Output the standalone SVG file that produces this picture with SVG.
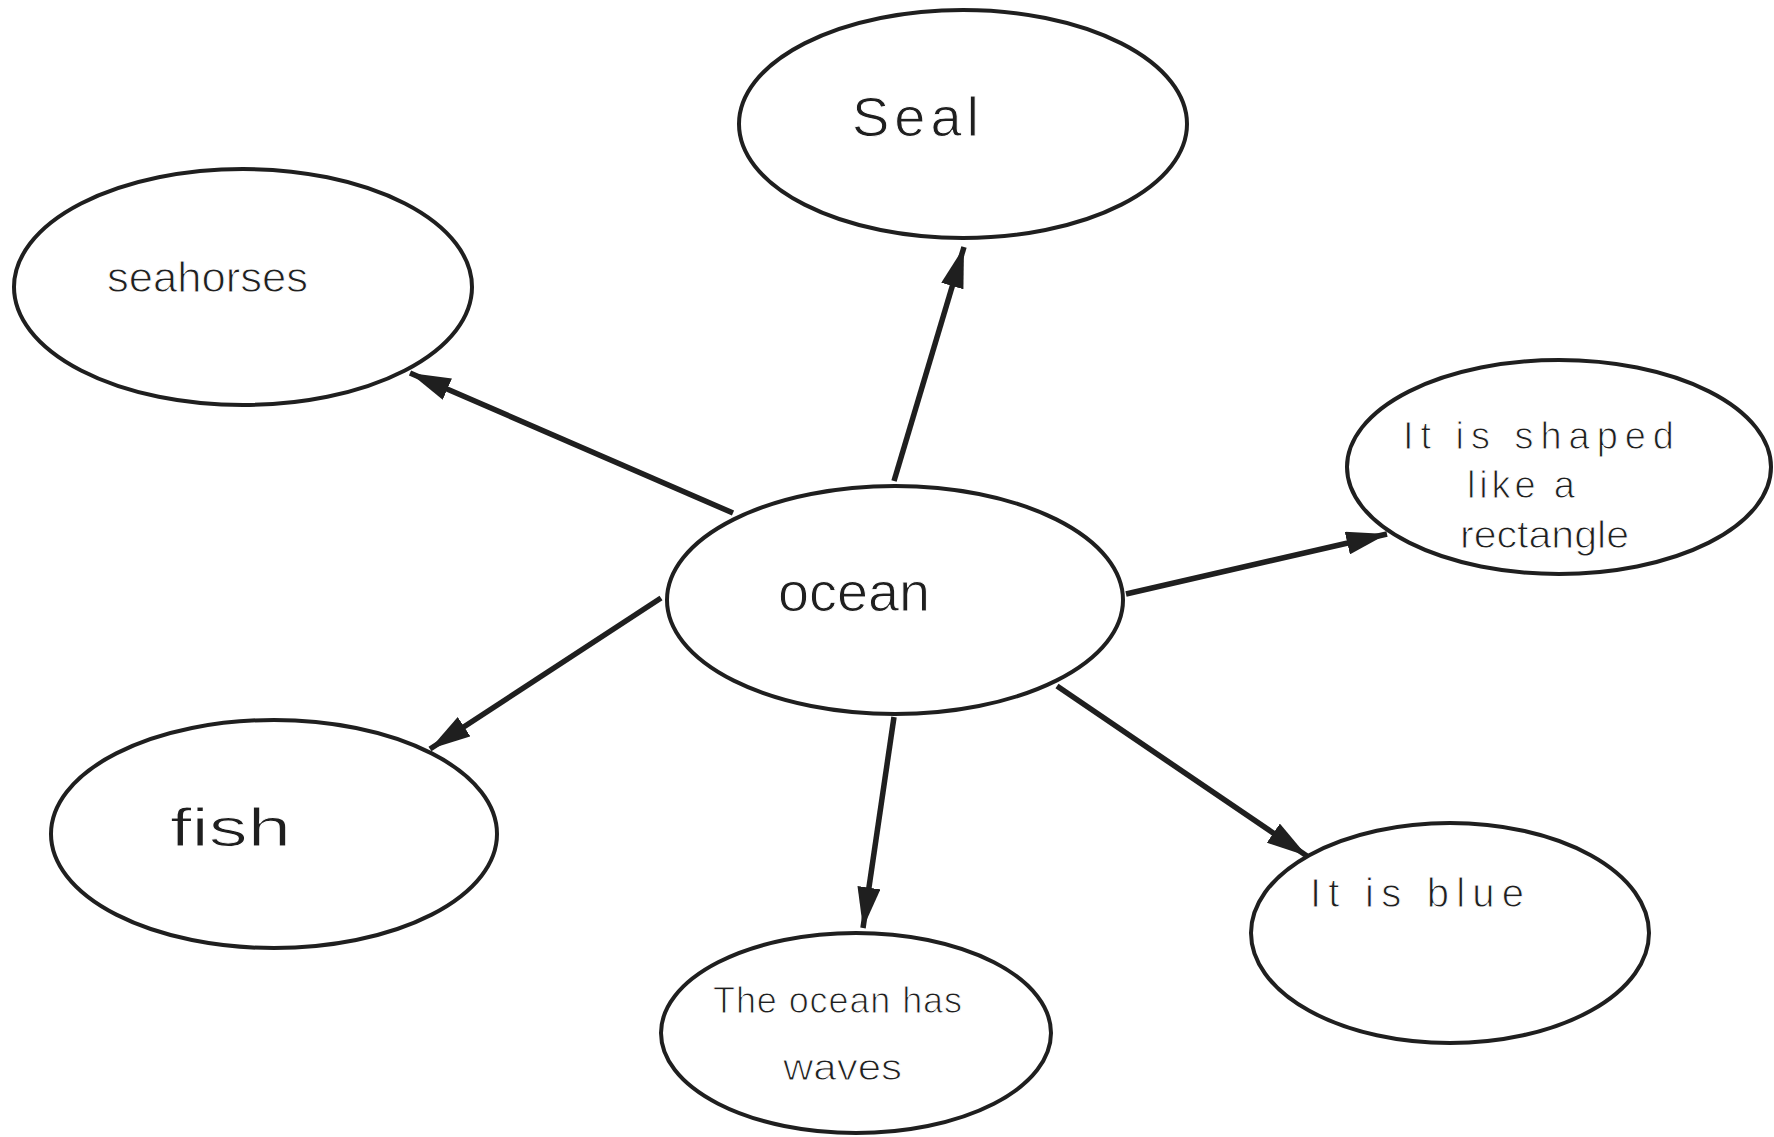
<svg xmlns="http://www.w3.org/2000/svg" width="1774" height="1137" viewBox="0 0 1774 1137">
<style>
.node ellipse{fill:#fff;stroke:#1f1f1f;stroke-width:4}
.lbl{font-family:"Liberation Sans","DejaVu Sans",sans-serif;font-weight:300;fill:#1f1f1f;stroke:#fff;stroke-width:1}
.conn line{stroke:#1f1f1f;stroke-width:5.5;stroke-linecap:butt}
</style>
<defs>
<marker id="ah" viewBox="0 0 10 10" refX="10" refY="5" markerWidth="7.4" markerHeight="4.2" markerUnits="strokeWidth" orient="auto" preserveAspectRatio="none">
<path d="M0,0 L10,5 L0,10 z" fill="#1f1f1f"/>
</marker>
</defs>
<rect width="1774" height="1137" fill="#fff"/>
<g id="connectors" class="conn">
<line x1="894" y1="481" x2="964" y2="247" marker-end="url(#ah)"/>
<line x1="733" y1="513" x2="410" y2="373" marker-end="url(#ah)"/>
<line x1="1126" y1="594" x2="1387" y2="534" marker-end="url(#ah)"/>
<line x1="661" y1="598" x2="430" y2="749" marker-end="url(#ah)"/>
<line x1="894" y1="717" x2="863" y2="928" marker-end="url(#ah)"/>
<line x1="1057" y1="686" x2="1307" y2="856" marker-end="url(#ah)"/>
</g>
<g id="ocean" class="node">
<ellipse cx="895" cy="600" rx="228" ry="114"/>
<text class="lbl" x="778" y="611" font-size="56" textLength="152" lengthAdjust="spacingAndGlyphs">ocean</text>
</g>
<g id="seal" class="node">
<ellipse cx="963" cy="124" rx="224" ry="114"/>
<text class="lbl" x="852" y="136" font-size="56" textLength="127" lengthAdjust="spacing">Seal</text>
</g>
<g id="seahorses" class="node">
<ellipse cx="243" cy="287" rx="229" ry="118"/>
<text class="lbl" x="107" y="292" font-size="42" textLength="201" lengthAdjust="spacingAndGlyphs">seahorses</text>
</g>
<g id="shaped" class="node">
<ellipse cx="1559" cy="467" rx="212" ry="107"/>
<text class="lbl" x="1403" y="449" font-size="38" textLength="271" lengthAdjust="spacing">It is shaped</text>
<text class="lbl" x="1467" y="498" font-size="38" textLength="108" lengthAdjust="spacing">like a</text>
<text class="lbl" x="1460" y="548" font-size="38" textLength="169" lengthAdjust="spacingAndGlyphs">rectangle</text>
</g>
<g id="fish" class="node">
<ellipse cx="274" cy="834" rx="223" ry="114"/>
<text class="lbl" x="170" y="846" font-size="54" textLength="121" lengthAdjust="spacingAndGlyphs">fish</text>
</g>
<g id="waves" class="node">
<ellipse cx="856" cy="1033" rx="195" ry="100"/>
<text class="lbl" x="713" y="1013" font-size="36" textLength="249" lengthAdjust="spacing">The ocean has</text>
<text class="lbl" x="783" y="1080" font-size="36" textLength="119" lengthAdjust="spacingAndGlyphs">waves</text>
</g>
<g id="blue" class="node">
<ellipse cx="1450" cy="933" rx="199" ry="110"/>
<text class="lbl" x="1310" y="907" font-size="40" textLength="214" lengthAdjust="spacing">It is blue</text>
</g>
</svg>
